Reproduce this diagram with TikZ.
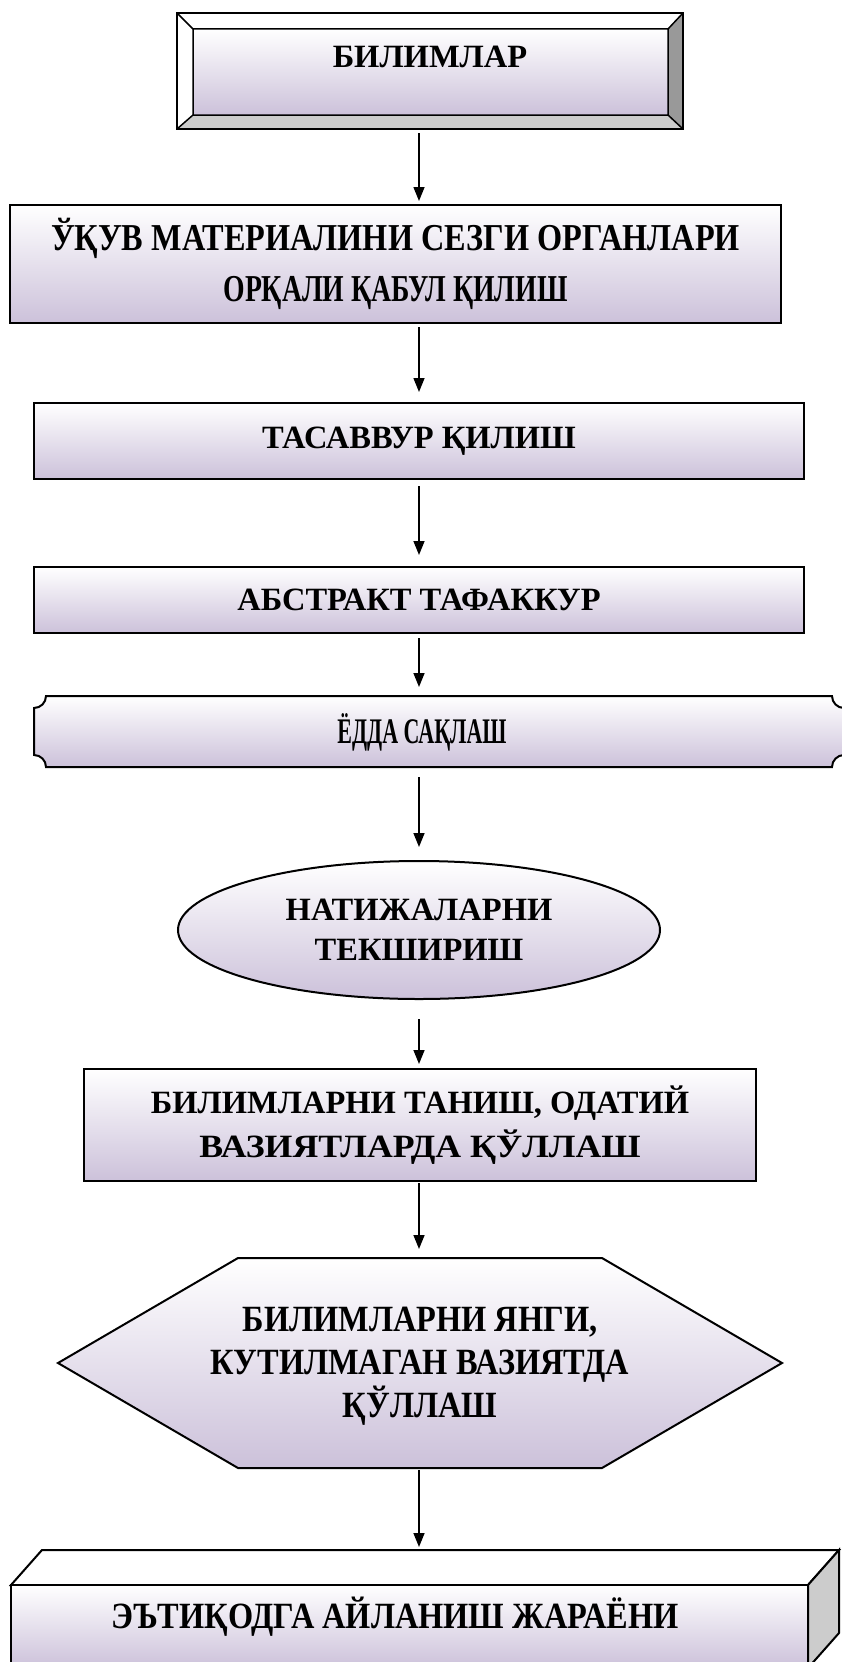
\documentclass[tikz,border=0pt]{standalone}
\usepackage{fontspec}
\setmainfont{Liberation Serif}
\usetikzlibrary{shapes.geometric,arrows.meta,calc}
\definecolor{lav}{RGB}{204,193,218}
\definecolor{bevR}{RGB}{153,153,153}
\definecolor{bevB}{RGB}{204,204,204}
\newcommand\sx[2]{\scalebox{#1}[1]{#2}}
\begin{document}
\begin{tikzpicture}[x=1pt,y=-1pt,
  shp/.style={draw=black, line width=2pt, top color=white, bottom color=lav},
  lbl/.style={font=\fontsize{32.5}{44}\selectfont\bfseries, align=center, inner sep=0pt, text=black},
  tall/.style={font=\fontsize{37}{43}\selectfont\bfseries},
  link/.style={line width=1.5pt, -{Triangle[length=14pt,width=11pt]}},
  frame/.style={rectangle, inner sep=0pt, outer sep=0pt}]
\useasboundingbox (0,0) rectangle (842,1662);
\coordinate (axis) at (419,0);

% 1: bevel box
\node[frame, minimum width=506pt, minimum height=116pt] (b1) at (430,71) {};
\coordinate (i1) at ($(b1.north west)+(16,16)$);
\coordinate (i2) at ($(b1.north east)+(-15,16)$);
\coordinate (i3) at ($(b1.south east)+(-15,-14)$);
\coordinate (i4) at ($(b1.south west)+(16,-14)$);
\fill[white] (b1.north west) -- (b1.north east) -- (i2) -- (i1) -- cycle;
\fill[white] (b1.north west) -- (i1) -- (i4) -- (b1.south west) -- cycle;
\fill[bevR] (b1.north east) -- (b1.south east) -- (i3) -- (i2) -- cycle;
\fill[bevB] (b1.south west) -- (i4) -- (i3) -- (b1.south east) -- cycle;
\shade[top color=white, bottom color=lav] (i1) rectangle (i3);
\draw[line width=1.5pt] (i1) rectangle (i3) (b1.north west) -- (i1) (b1.north east) -- (i2) (b1.south east) -- (i3) (b1.south west) -- (i4);
\draw[line width=2pt] (b1.north west) rectangle (b1.south east);
\node[lbl] (t1) at (430,57) {БИЛИМЛАР};

% 2
\node[shp, frame, lbl, font=\fontsize{38}{51}\selectfont\bfseries, minimum width=771pt, minimum height=118pt] (b2) at (395.5,264)
  {\sx{0.85}{ЎҚУВ МАТЕРИАЛИНИ СЕЗГИ ОРГАНЛАРИ}\\\sx{0.73}{ОРҚАЛИ ҚАБУЛ ҚИЛИШ}};
% 3
\node[shp, frame, lbl, minimum width=770pt, minimum height=76pt] (b3) at (419,441) {ТАСАВВУР ҚИЛИШ};
% 4
\node[shp, frame, lbl, minimum width=770pt, minimum height=66pt] (b4) at (419,600) {АБСТРАКТ ТАФАККУР};
% 5: plaque
\node[frame, minimum width=810pt, minimum height=71pt] (b5) at (439,731.5) {};
\path[shp] (34,708) .. controls +(6.6,0) and +(0,6.6) .. (46,696) -- (832,696)
  .. controls +(0,6.6) and +(-6.6,0) .. (844,708) -- (844,755)
  .. controls +(-6.6,0) and +(0,-6.6) .. (832,767) -- (46,767)
  .. controls +(0,-6.6) and +(6.6,0) .. (34,755) -- cycle;
\node[lbl, font=\fontsize{36}{43}\selectfont\bfseries] (t5) at (422,732) {\sx{0.61}{ЁДДА САҚЛАШ}};
% 6: ellipse
\node[shp, ellipse, lbl, font=\fontsize{32.5}{40}\selectfont\bfseries, minimum width=482pt, minimum height=138pt] (e6) at (419,930) {НАТИЖАЛАРНИ\\ТЕКШИРИШ};
% 7
\node[shp, frame, lbl, minimum width=672pt, minimum height=112pt] (b7) at (420,1125) {БИЛИМЛАРНИ ТАНИШ, ОДАТИЙ\\\sx{1.1}{ВАЗИЯТЛАРДА ҚЎЛЛАШ}};
% 8: hexagon
\node[frame, minimum width=724pt, minimum height=210pt] (h8) at (420,1363) {};
\path[shp] (58,1363) -- (238,1258) -- (602,1258) -- (782,1363) -- (602,1468) -- (238,1468) -- cycle;
\node[lbl, tall] (t8) at (420,1366) {\sx{0.875}{БИЛИМЛАРНИ ЯНГИ,}\\\sx{0.875}{КУТИЛМАГАН ВАЗИЯТДА}\\\sx{0.875}{ҚЎЛЛАШ}};
% 9: cube
\node[frame, minimum width=828pt, minimum height=120pt] (c9) at (425,1610) {};
\filldraw[fill=white, line width=2pt] (11,1585) -- (42,1550) -- (839,1550) -- (808,1585) -- cycle;
\filldraw[fill=bevB, line width=2pt] (808,1585) -- (839,1550) -- (839,1633) -- (808,1668) -- cycle;
\path[shp] (11,1585) rectangle (808,1668);
\node[lbl, tall] (t9) at (395,1617) {\sx{0.875}{ЭЪТИҚОДГА АЙЛАНИШ ЖАРАЁНИ}};

% connectors
\draw[link, shorten <=4pt, shorten >=4pt] (b1.south -| axis) -- (b2.north -| axis);
\draw[link, shorten <=4pt, shorten >=11pt] (b2.south -| axis) -- (b3.north -| axis);
\draw[link, shorten <=7pt, shorten >=12pt] (b3.south -| axis) -- (b4.north -| axis);
\draw[link, shorten <=5pt, shorten >=9pt] (b4.south -| axis) -- (b5.north -| axis);
\draw[link, shorten <=10pt, shorten >=13pt] (b5.south -| axis) -- (e6.north -| axis);
\draw[link, shorten <=19pt, shorten >=5pt] (e6.south -| axis) -- (b7.north -| axis);
\draw[link, shorten <=2pt, shorten >=9pt] (b7.south -| axis) -- (h8.north -| axis);
\draw[link, shorten <=2pt, shorten >=3pt] (h8.south -| axis) -- (c9.north -| axis);
\end{tikzpicture}
\end{document}
